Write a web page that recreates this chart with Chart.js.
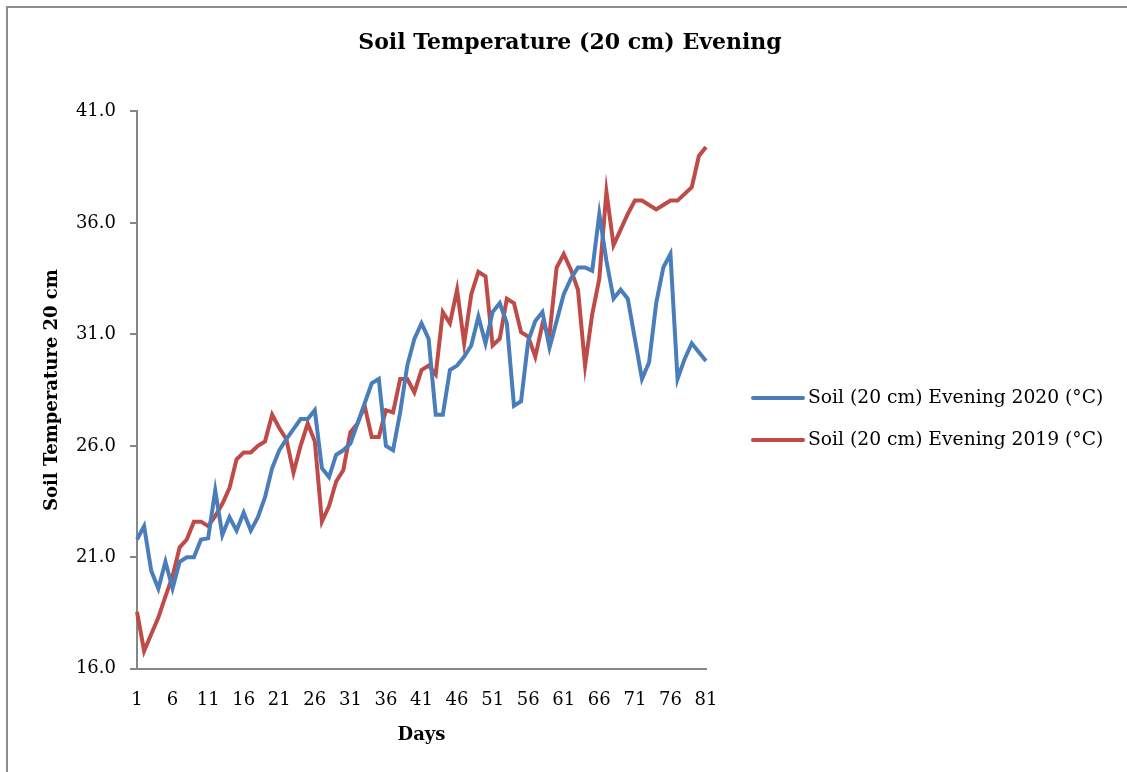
<!DOCTYPE html>
<html>
<head>
<meta charset="utf-8">
<script src="https://cdn.jsdelivr.net/npm/chart.js@4.4.1/dist/chart.umd.min.js"></script>
<style>
  body { margin: 0; background: #fff; }
  #box { position: absolute; left: 6px; top: 6px; width: 1121px; height: 766px;
         border-left: 2px solid #8c8c8c; border-top: 2px solid #8c8c8c; }
  canvas { display: block; }
</style>
</head>
<body>
<div id="box"><canvas id="soilChart" width="1119" height="764"></canvas></div>
<script>
// Zile 1..81
const days = [];
for (let d = 1; d <= 81; d++) days.push(String(d));

// Valori (°C)
const soil2020 = [
  21.8, 22.4, 20.4, 19.6, 20.8, 19.6, 20.8, 21.0, 21.0, 21.8,
  21.85, 24.0, 22.0, 22.8, 22.2, 23.0, 22.2, 22.8, 23.7, 25.0,
  25.8, 26.3, 26.75, 27.2, 27.2, 27.6, 25.0, 24.6, 25.6, 25.8,
  26.1, 27.0, 27.9, 28.8, 29.0, 26.0, 25.8, 27.5, 29.6, 30.8,
  31.5, 30.8, 27.4, 27.4, 29.4, 29.6, 30.0, 30.5, 31.8, 30.6,
  32.0, 32.4, 31.5, 27.8, 28.0, 30.7, 31.6, 32.0, 30.4, 31.6,
  32.8, 33.5, 34.0, 34.0, 33.85, 36.4, 34.3, 32.6, 33.0, 32.6,
  30.8, 29.0, 29.75, 32.4, 34.0, 34.6, 29.0, 29.9, 30.6, 30.2, 29.8
];
const soil2019 = [
  18.55, 16.8, 17.55, 18.3, 19.25, 20.15, 21.45, 21.8, 22.6, 22.6,
  22.4, 22.85, 23.4, 24.1, 25.4, 25.7, 25.7, 26.0, 26.2, 27.4,
  26.8, 26.3, 24.8, 26.0, 27.0, 26.2, 22.6, 23.3, 24.4, 24.9,
  26.6, 27.0, 27.8, 26.4, 26.4, 27.6, 27.5, 29.0, 29.0, 28.4,
  29.4, 29.6, 29.2, 32.0, 31.5, 33.0, 30.6, 32.8, 33.8, 33.6,
  30.5, 30.8, 32.6, 32.4, 31.1, 30.9, 30.0, 31.45, 31.0, 34.0,
  34.6, 33.9, 33.0, 29.6, 31.9, 33.5, 37.4, 35.0, 35.7, 36.4,
  37.0, 37.0, 36.8, 36.6, 36.8, 37.0, 37.0, 37.3, 37.6, 39.0, 39.4
];

const serif = "'DejaVu Serif', serif";
const axisGray = '#868686';

// legenda in dreapta (cea din Chart.js e prea ingusta pe latura)
const sideLegend = {
  id: 'sideLegend',
  afterDraw(chart) {
    const c = chart.ctx;
    const a = chart.chartArea;
    const x0 = a.right + 47;
    const yMid = (a.top + a.bottom) / 2 + 29;
    c.save();
    c.font = '18.7px ' + serif;
    c.textBaseline = 'middle';
    c.textAlign = 'left';
    chart.data.datasets.forEach((ds, i) => {
      const y = yMid + (i - 0.5) * 42;
      c.strokeStyle = ds.borderColor;
      c.lineWidth = ds.borderWidth;
      c.lineCap = 'round';
      c.beginPath();
      c.moveTo(x0, y);
      c.lineTo(x0 + 50, y);
      c.stroke();
      c.fillStyle = '#000';
      c.fillText(ds.label, x0 + 55, y);
    });
    c.restore();
  }
};

const ctx = document.getElementById('soilChart').getContext('2d');
const chart = new Chart(ctx, {
  type: 'line',
  data: {
    labels: days,
    datasets: [{
      label: 'Soil (20 cm) Evening 2020 (°C)',
      data: soil2020,
      borderColor: '#4A7EBB',
      borderWidth: 4,
      pointRadius: 0,
      fill: false
    }, {
      label: 'Soil (20 cm) Evening 2019 (°C)',
      data: soil2019,
      borderColor: '#BE4B48',
      borderWidth: 4,
      pointRadius: 0,
      fill: false
    }]
  },
  options: {
    responsive: false,
    animation: false,
    layout: { padding: { left: 5, right: 0, top: 22, bottom: 22 } },
    plugins: {
      title: {
        display: true,
        text: 'Soil Temperature (20 cm) Evening',
        color: '#000',
        font: { family: serif, size: 22, weight: 'bold' },
        padding: { top: 0, bottom: 55 }
      },
      legend: { display: false },
      tooltip: { enabled: false }
    },
    scales: {
      x: {
        grid: { display: false },
        border: { display: true, color: axisGray, width: 2 },
        ticks: {
          autoSkip: false,
          maxRotation: 0,
          color: '#000',
          font: { family: serif, size: 18 },
          padding: 13,
          callback: (v, i) => (i % 5 === 0 ? days[i] : null)
        },
        title: {
          display: true,
          text: 'Days',
          color: '#000',
          font: { family: serif, size: 18, weight: 'bold' },
          padding: { top: 0 }
        }
      },
      y: {
        min: 16,
        max: 41,
        afterFit: s => { s.width = 124; },
        grid: { drawOnChartArea: false, drawTicks: true, tickLength: 7, color: axisGray, lineWidth: 2 },
        border: { display: true, color: axisGray, width: 2 },
        ticks: {
          stepSize: 5,
          color: '#000',
          font: { family: serif, size: 18 },
          padding: 14,
          callback: v => v.toFixed(1)
        },
        title: {
          display: true,
          text: 'Soil Temperature 20 cm',
          color: '#000',
          font: { family: serif, size: 18, weight: 'bold' },
          padding: { top: 29, bottom: 0 }
        }
      },
      // spatiu gol in dreapta pentru legenda
      side: {
        position: 'right',
        display: true,
        afterFit: s => { s.width = 421; },
        grid: { display: false },
        border: { display: false },
        ticks: { display: false }
      }
    }
  },
  plugins: [sideLegend]
});
</script>
</body>
</html>
